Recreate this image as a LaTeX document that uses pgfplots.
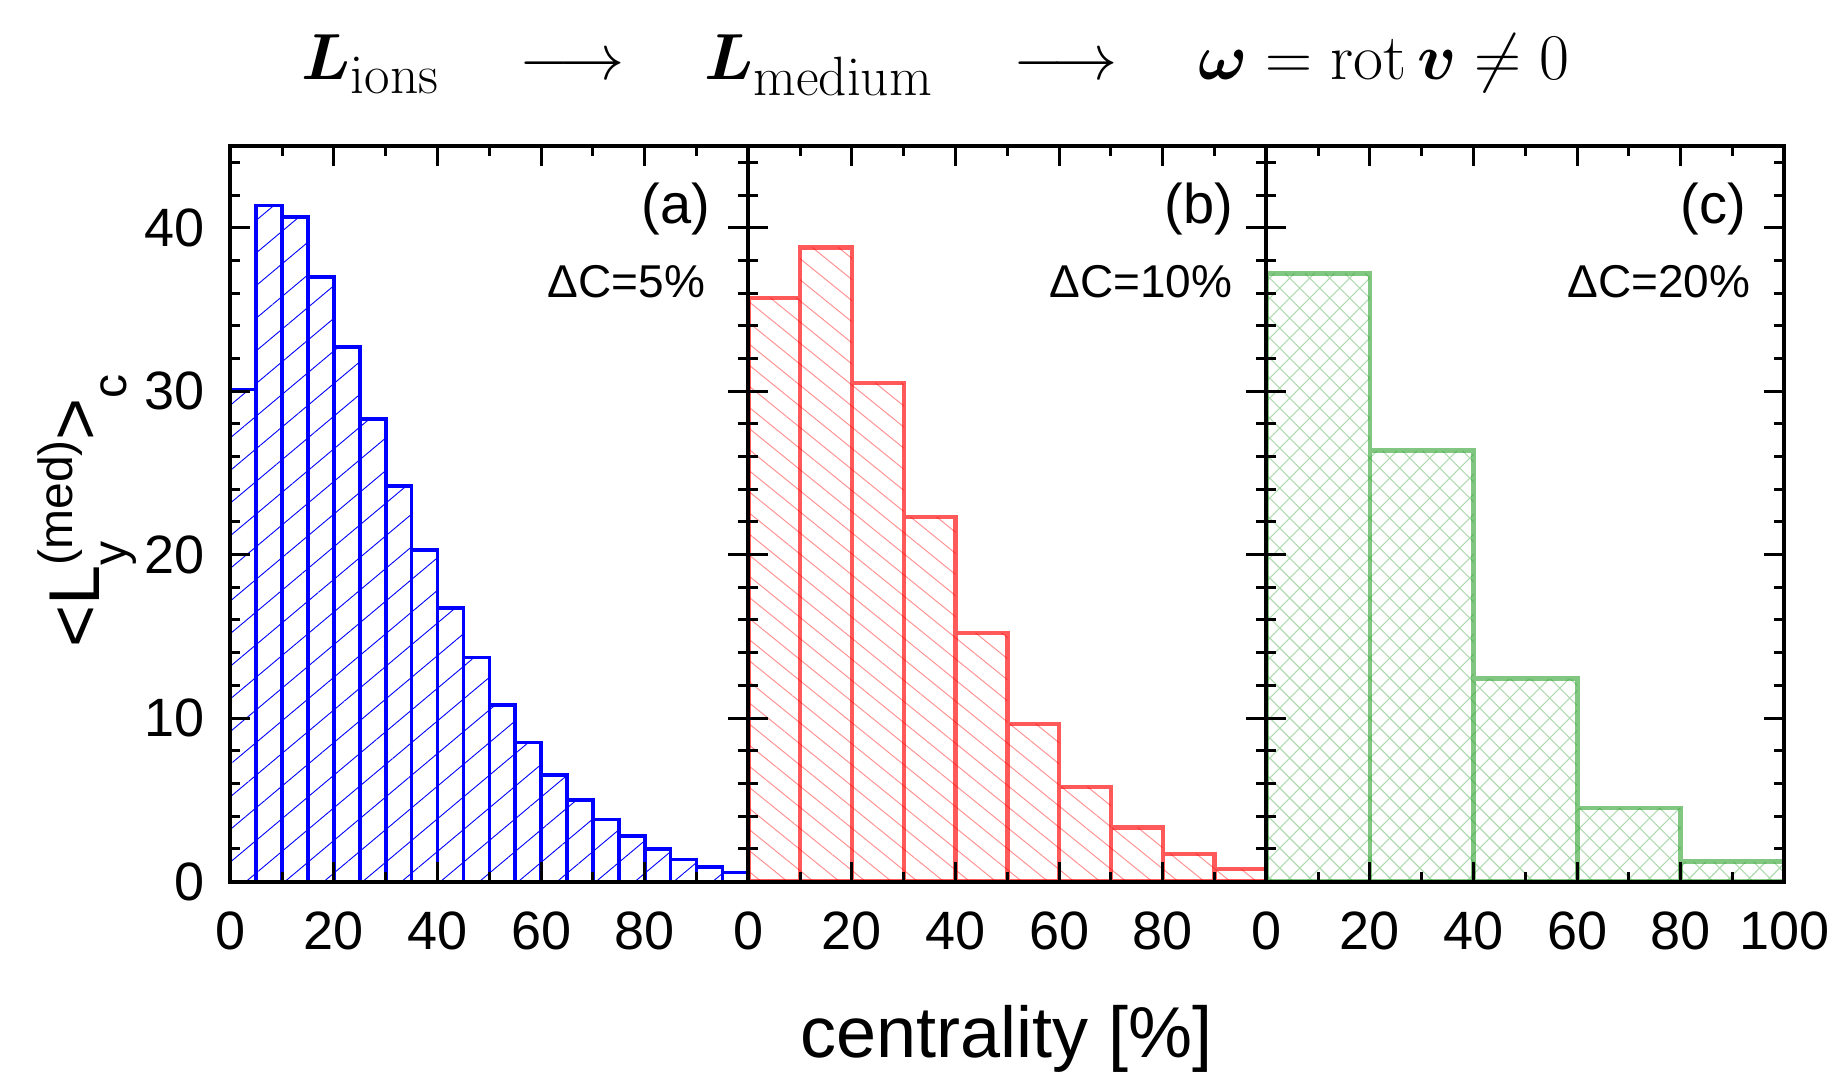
\RequirePackage{fix-cm}
\documentclass[border=0pt]{standalone}
\usepackage[no-math]{fontspec}
\setmainfont{Liberation Sans}
\usepackage{amsmath}
\usepackage{bm}
\usepackage{graphicx}
\usepackage{pgfplots}
\pgfplotsset{compat=1.18}
\usetikzlibrary{patterns.meta}
\DeclareMathSizes{32.6}{32.6}{27.7}{20}
\definecolor{hatchgreen}{rgb}{0.44,0.74,0.44}
\definecolor{edgegreen}{rgb}{0.1,0.6,0.1}
\definecolor{hatchred}{rgb}{1.0,0.35,0.35}

\pgfplotsset{
  panel/.style={
    scale only axis, width=259pt, height=367.75pt,
    xmin=0, xmax=100, ymin=0, ymax=45,
    xtick={0,20,...,100}, minor xtick={0,10,...,100},
    ytick={0,10,...,40}, minor ytick={0,2,...,44},
    axis on top,
    axis line style={line width=2pt},
    tick style={black, line width=1.5pt},
    major tick length=10pt, minor tick length=5pt,
    tick label style={font=\fontsize{27}{27}\selectfont},
    /pgf/number format/assume math mode=true,
    xticklabel style={yshift=-11.5pt},
    yticklabel style={xshift=-9.5pt},
  },
}
\tikzset{
  plab/.style={anchor=base east, font=\fontsize{28}{28}\selectfont},
  dlab/.style={anchor=base east, font=\fontsize{23}{23}\selectfont},
}

\begin{document}
\begin{tikzpicture}
\path[use as bounding box] (-115.15pt,-103.25pt) rectangle (801.35pt,440.75pt);

% panel (a)
\begin{axis}[panel, at={(0pt,0pt)}, anchor=south west,
  xtick={0,20,...,80}]
\addplot[ybar interval, draw=blue, line width=1.8pt,
  pattern={Lines[angle=40,distance=12.5pt,line width=0.45pt]}, pattern color=blue]
  coordinates {(0,30.1) (5,41.35) (10,40.65) (15,37.0) (20,32.7) (25,28.3) (30,24.2)
  (35,20.3) (40,16.75) (45,13.7) (50,10.8) (55,8.5) (60,6.5) (65,5.0) (70,3.8)
  (75,2.8) (80,2.0) (85,1.35) (90,0.9) (95,0.55) (100,0.55)};
\node[plab, xshift=-15.5pt, yshift=-38.5pt] at (rel axis cs:1,1) {(a)};
\node[dlab, xshift=-18pt, yshift=-75.5pt] at (rel axis cs:1,1) {ΔC=5\%};
\end{axis}

% panel (b)
\begin{axis}[panel, at={(259pt,0pt)}, anchor=south west,
  xtick={0,20,...,80}, yticklabels={}]
\addplot[ybar interval, draw=red, draw opacity=0.65, line width=2.2pt,
  pattern={Lines[angle=-39,distance=8.2pt,line width=0.5pt]}, pattern color=hatchred]
  coordinates {(0,35.7) (10,38.8) (20,30.5) (30,22.3) (40,15.2) (50,9.65) (60,5.8)
  (70,3.3) (80,1.7) (90,0.75) (100,0.75)};
\node[plab, xshift=-13pt, yshift=-38.5pt] at (rel axis cs:1,1) {(b)};
\node[dlab, xshift=-13.5pt, yshift=-75.5pt] at (rel axis cs:1,1) {ΔC=10\%};
\end{axis}

% panel (c)
\begin{axis}[panel, at={(518pt,0pt)}, anchor=south west,
  yticklabels={}]
\addplot[ybar interval, draw=edgegreen, draw opacity=0.55, line width=2.4pt,
  pattern={Hatch[angle=45,distance=7.07pt,line width=0.55pt]}, pattern color=hatchgreen]
  coordinates {(0,37.2) (20,26.35) (40,12.4) (60,4.5) (80,1.2) (100,1.2)};
\node[plab, xshift=-15.5pt, yshift=-38.5pt] at (rel axis cs:1,1) {(c)};
\node[dlab, xshift=-13.5pt, yshift=-75.5pt] at (rel axis cs:1,1) {ΔC=20\%};
\end{axis}

% axis labels and title
\node[rotate=90, anchor=base] at (-65.15pt,185.25pt)
  {\fontsize{36}{36}\selectfont <L{\fontsize{24}{24}\selectfont\raisebox{-13.5pt}{y}\hspace{-12pt}\raisebox{13.5pt}{(med)}}>{\fontsize{24}{24}\selectfont\raisebox{-13.5pt}{c}}};
\node[anchor=base] at (388.1pt,-88pt) {\fontsize{36}{36}\selectfont centrality [\%]};
\node[anchor=base] at (352.75pt,401pt) {\fontsize{32.6}{38}\selectfont
  $\bm{L}_{\mathrm{ions}}$\hspace{40pt}$\longrightarrow$\hspace{40pt}%
  $\bm{L}_{\mathrm{medium}}$\hspace{40pt}$\longrightarrow$\hspace{40pt}%
  $\bm{\omega}=\mathrm{rot}\,\bm{v}\neq0$};
\end{tikzpicture}
\end{document}
